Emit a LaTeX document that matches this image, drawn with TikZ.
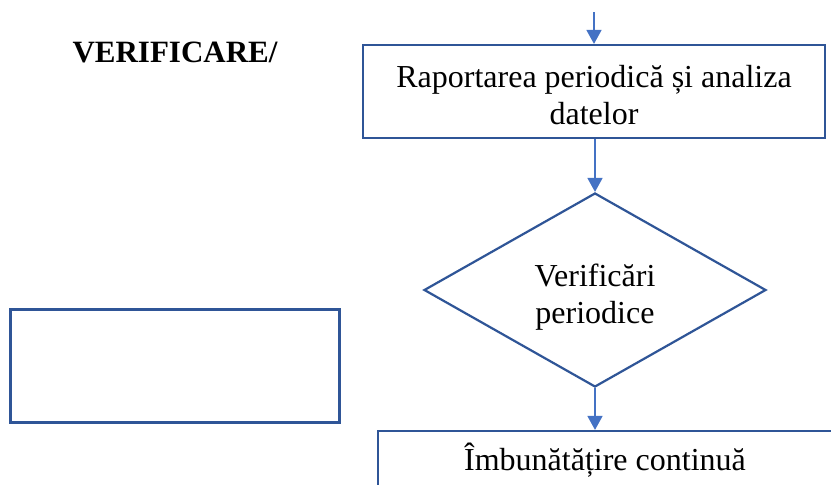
\documentclass[tikz,border=0pt]{standalone}
\usepackage{fontspec}
\setmainfont{Liberation Serif}
\usetikzlibrary{shapes.geometric,arrows.meta}
\definecolor{boxblue}{HTML}{2F5597}
\definecolor{arrowblue}{HTML}{4472C4}
\begin{document}
\begin{tikzpicture}[x=1pt,y=-1pt,
  txt/.style={font=\fontsize{32}{37}\selectfont, align=center},
  procbox/.style={draw=boxblue, line width=2.2pt, rectangle, inner sep=0pt, txt},
  decision/.style={draw=boxblue, line width=2.2pt, diamond, aspect=1.76, inner sep=0pt, txt},
  flow/.style={draw=arrowblue, line width=1.6pt, -{Triangle[width=15pt,length=14pt]}}]
\clip (0,0) rectangle (831,485);
\fill[white] (0,0) rectangle (831,485);
\node[txt, font=\fontsize{31}{37}\selectfont\bfseries] (title) at (175,52) {VERIFICARE/};
\node[procbox, minimum width=462pt, minimum height=93pt] (box1) at (594,91.5)
  {\rule{0pt}{30pt}Raportarea periodică și analiza\\datelor};
\node[decision, minimum width=342pt, minimum height=194pt] (dia) at (595,290)
  {\rule{0pt}{36pt}Verificări\\periodice};
\node[procbox, line width=3pt, minimum width=329pt, minimum height=113pt] (left) at (174.5,365.5) {};
\node[procbox, minimum width=454pt, minimum height=58pt] (box3) at (605,460) {Îmbunătățire continuă};
\coordinate (start) at (594,12);
\draw[flow] (start) -- (box1.north);
\draw[flow] (dia.north |- box1.south) -- (dia.north);
\draw[flow] (dia.south) -- (dia.south |- box3.north);
\end{tikzpicture}
\end{document}
